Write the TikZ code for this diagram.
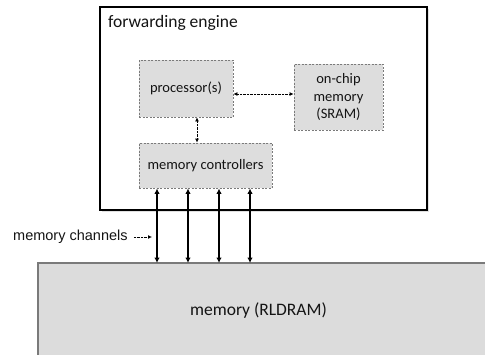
\documentclass[tikz,border=0pt]{standalone}
\usepackage{fontspec}
\setmainfont{Carlito}
\newfontfamily\arialfont{Liberation Sans}
\usetikzlibrary{arrows.meta}
\definecolor{boxfill}{HTML}{DDDDDD}
\definecolor{boxline}{HTML}{7A7A7A}
\definecolor{memfill}{HTML}{DCDCDC}
\definecolor{txt}{HTML}{141414}
\tikzset{
  dbox/.style={draw=boxline, fill=boxfill, dash pattern=on 2pt off 1.5pt, line width=0.8pt,
    inner sep=0pt, align=center, text=txt, font=\fontsize{14.5}{17.5}\selectfont},
  engine/.style={draw=black, line width=2.2pt, inner sep=0pt},
  dottip/.style={Latex[length=4pt,width=4pt]},
  dotarrow/.style={dash pattern=on 0.7pt off 0.7pt, line width=0.9pt, {Latex[length=4pt,width=4pt]}-{Latex[length=4pt,width=4pt]}},
  dotone/.style={dash pattern=on 0.7pt off 0.7pt, line width=0.9pt, -{Latex[length=4pt,width=4pt]}},
  chan/.style={line width=1.5pt, {Latex[length=5.5pt,width=5.5pt]}-{Latex[length=5.5pt,width=5.5pt]}},
}
\begin{document}
\begin{tikzpicture}[x=1pt,y=-1pt]
\useasboundingbox (0,0) rectangle (485,354);
% memory block (runs off the page)
\fill[memfill] (38,263) rectangle (490,360);
\draw[boxline, line width=1.3pt] (38,360) -- (38,263) -- (490,263);
\coordinate (memtop) at (38,263);
\node[font=\fontsize{17.5}{21}\selectfont, text=txt] (memlbl) at (258.5,311) {memory (RLDRAM)};
% forwarding engine
\fill[black!12] (102,9) rectangle (429,212);
\node[engine, fill=white, minimum width=327pt, minimum height=203pt] (fe) at (263.5,108.5) {};
\node[anchor=base west, font=\fontsize{17.5}{21}\selectfont, text=txt, inner sep=0pt] (fetitle) at (108,27.5) {forwarding engine};
% inner boxes
\node[dbox, minimum width=94pt, minimum height=57pt] (proc) at (186,88.5) {processor(s)};
\node[dbox, minimum width=89pt, minimum height=66pt] (sram) at (338.5,97) {on-chip\\memory\\(SRAM)};
\node[dbox, minimum width=133pt, minimum height=45pt] (mc) at (205.5,165.5) {memory controllers};
% connectors
\coordinate (ya) at (0,94);
\draw[dotarrow] (proc.east |- ya) -- (sram.west |- ya);
\coordinate (xa) at (197,0);
\draw[dotarrow] (proc.south -| xa) -- (mc.north -| xa);
\foreach \x [count=\i] in {157,188,219,250} {
  \coordinate (c\i) at (\x,0);
  \draw[chan] (mc.south -| c\i) -- (memtop -| c\i);
}
% memory channels label
\node[anchor=west, inner sep=0pt, font=\arialfont\fontsize{14.5}{17}\selectfont, text=txt] (chlbl) at (13,237) {memory channels};
\coordinate (chend) at (152,237);
\draw[dotone] ([xshift=6pt]chlbl.east) -- (chend);
\end{tikzpicture}
\end{document}
